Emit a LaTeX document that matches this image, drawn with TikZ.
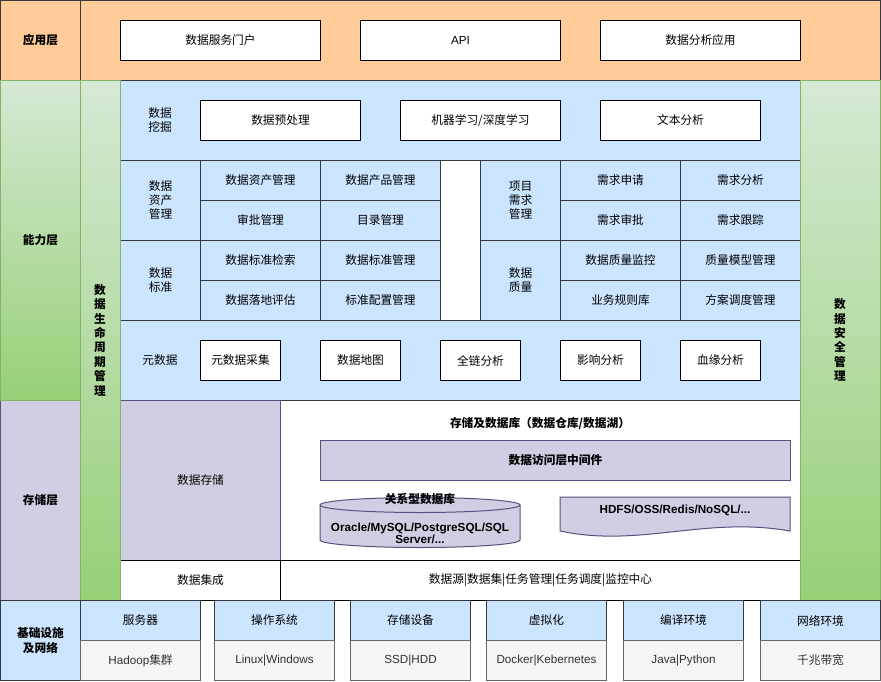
\documentclass[tikz,border=0pt]{standalone}
\usepackage{fontspec}
\setmainfont{Noto Sans CJK SC}
\newfontfamily\lat{Liberation Sans}
\usetikzlibrary{positioning}

\definecolor{edgegray}{HTML}{36393D}
\definecolor{orangefill}{HTML}{FFCC99}
\definecolor{greenlight}{HTML}{D5E8D4}
\definecolor{greendark}{HTML}{97D077}
\definecolor{greenedge}{HTML}{82B366}
\definecolor{bluefill}{HTML}{CCE5FF}
\definecolor{purplefill}{HTML}{D0CEE2}
\definecolor{purpleedge}{HTML}{56517E}
\definecolor{grayfill}{HTML}{F5F5F5}
\definecolor{grayedge}{HTML}{666666}
\definecolor{graytext}{HTML}{333333}

\begin{document}
\begin{tikzpicture}[
  x=1pt, y=-1pt,
  font=\fontsize{11.7}{14}\selectfont,
  sz/.style 2 args = {minimum width=#1pt, minimum height=#2pt},
  cell/.style      = {draw=edgegray, line width=1pt, inner sep=0pt,
                      anchor=north west, align=center},
  layer/.style     = {font=\bfseries\fontsize{11.7}{15}\selectfont},
  appfill/.style   = {cell, fill=orangefill},
  capfill/.style   = {cell, fill=bluefill},
  whitebox/.style  = {cell, draw=black, fill=white},
  greenbar/.style  = {cell, draw=greenedge, top color=greenlight,
                      bottom color=greendark},
  vtext/.style     = {align=center, font=\bfseries\fontsize{11.7}{14.4}\selectfont},
  storefill/.style = {cell, draw=purpleedge, fill=purplefill},
  hwhead/.style    = {cell, fill=bluefill},
  hwbody/.style    = {cell, draw=grayedge, fill=grayfill, text=graytext},
  lbl/.style       = {align=center},
  dbshape/.style   = {draw=purpleedge, line width=1pt, fill=purplefill},
  dbtext/.style    = {font=\bfseries\fontsize{11.7}{12}\selectfont},
]
\useasboundingbox (0,0) rectangle (881,681);

% =============================================================
% Application layer
% =============================================================
\node[appfill, layer, sz={80}{80}]   (appL)   at (0,0)   {应用层};
\node[appfill, sz={800}{80}]         (appA)   at (80,0)  {};
\node[whitebox, sz={200}{40}]        (portal) at (120,20) {数据服务门户};
\node[whitebox, sz={200}{40}]        (api)    at (360,20) {{\lat API}};
\node[whitebox, sz={200}{40}]        (anaapp) at (600,20) {数据分析应用};

% =============================================================
% Capability layer (blue area)
% =============================================================
\node[capfill, sz={680}{320}] (capA) at (120,80) {};
\node[capfill, sz={680}{80}]  (mine) at (120,80) {};
\node[lbl] (mineL) at (160,120) {数据\\挖掘};
\node[whitebox, sz={160}{40}] (prep) at (200,100) {数据预处理};
\node[whitebox, sz={160}{40}] (ml)   at (400,100) {机器学习/深度学习};
\node[whitebox, sz={160}{40}] (text) at (600,100) {文本分析};

% --- left grid: assets / standards ---
\node[capfill, sz={80}{80}]  (assetL) at (120,160) {数据\\资产\\管理};
\node[capfill, sz={120}{40}] (as1)    at (200,160) {数据资产管理};
\node[capfill, sz={120}{40}] (as2)    at (320,160) {数据产品管理};
\node[capfill, sz={120}{40}] (as3)    at (200,200) {审批管理};
\node[capfill, sz={120}{40}] (as4)    at (320,200) {目录管理};
\node[capfill, sz={80}{80}]  (stdL)   at (120,240) {数据\\标准};
\node[capfill, sz={120}{40}] (st1)    at (200,240) {数据标准检索};
\node[capfill, sz={120}{40}] (st2)    at (320,240) {数据标准管理};
\node[capfill, sz={120}{40}] (st3)    at (200,280) {数据落地评估};
\node[capfill, sz={120}{40}] (st4)    at (320,280) {标准配置管理};

\node[cell, fill=white, sz={40}{160}] (gap) at (440,160) {};

% --- right grid: requirements / quality ---
\node[capfill, sz={80}{80}]  (reqL) at (480,160) {项目\\需求\\管理};
\node[capfill, sz={120}{40}] (rq1)  at (560,160) {需求申请};
\node[capfill, sz={120}{40}] (rq2)  at (680,160) {需求分析};
\node[capfill, sz={120}{40}] (rq3)  at (560,200) {需求审批};
\node[capfill, sz={120}{40}] (rq4)  at (680,200) {需求跟踪};
\node[capfill, sz={80}{80}]  (qaL)  at (480,240) {数据\\质量};
\node[capfill, sz={120}{40}] (qa1)  at (560,240) {数据质量监控};
\node[capfill, sz={120}{40}] (qa2)  at (680,240) {质量模型管理};
\node[capfill, sz={120}{40}] (qa3)  at (560,280) {业务规则库};
\node[capfill, sz={120}{40}] (qa4)  at (680,280) {方案调度管理};

% --- metadata row ---
\node[capfill, sz={680}{80}] (meta) at (120,320) {};
\node[lbl] (metaL) at (160,360) {元数据};
\node[whitebox, sz={80}{40}] (md1) at (200,340) {元数据采集};
\node[whitebox, sz={80}{40}] (md2) at (320,340) {数据地图};
\node[whitebox, sz={80}{40}] (md3) at (440,340) {全链分析};
\node[whitebox, sz={80}{40}] (md4) at (560,340) {影响分析};
\node[whitebox, sz={80}{40}] (md5) at (680,340) {血缘分析};

% =============================================================
% Storage layer
% =============================================================
\node[storefill, layer, sz={80}{200}] (storL) at (0,400)   {存储层};
\node[cell, fill=white, sz={520}{160}] (storA) at (280,400) {};
\node[storefill, sz={160}{160}]        (store) at (120,400) {数据存储};
\node[dbtext] (storT) at (540,424) {存储及数据库（数据仓库/数据湖）};
\node[storefill, dbtext, sz={470}{40}] (midw) at (320,440) {数据访问层中间件};

% relational database cylinder
\fill[purplefill] (320,505) -- (320,540)
  arc[start angle=180, end angle=360, x radius=100pt, y radius=7.5pt]
  -- (520,505)
  arc[start angle=0, end angle=180, x radius=100pt, y radius=7.5pt] -- cycle;
\draw[dbshape, fill=none] (320,505) -- (320,540)
  arc[start angle=180, end angle=360, x radius=100pt, y radius=7.5pt]
  -- (520,505);
\draw[dbshape, fill=none] (420,505) ellipse[x radius=100pt, y radius=7.5pt];
\node[dbtext] (rdbT) at (420,499) {关系型数据库};
\node[dbtext, align=center] (rdbB) at (420,533)
  {{\lat\bfseries Oracle/MySQL/PostgreSQL/SQL}\\{\lat\bfseries Server/...}};

% other stores (wavy document shape)
\draw[dbshape] (560,497) -- (790,497) -- (790,531)
  .. controls (705,516) and (640,548) .. (560,531) -- cycle;
\node[dbtext] (nosql) at (675,510) {{\lat\bfseries HDFS/OSS/Redis/NoSQL/...}};

% integration row
\node[whitebox, sz={160}{40}] (integ)  at (120,560) {数据集成};
\node[whitebox, sz={520}{40}] (integB) at (280,560) {数据源|数据集|任务管理|任务调度|监控中心};

% =============================================================
% Green side bars
% =============================================================
\node[greenbar, layer, sz={80}{320}] (capL) at (0,80)   {能力层};
\node[greenbar, sz={40}{520}]        (life) at (80,80)  {};
\node[vtext] (lifeT) at (100,340) {数\\据\\生\\命\\周\\期\\管\\理};
\node[greenbar, sz={80}{520}]        (sec)  at (800,80) {};
\node[vtext] (secT)  at (840,340) {数\\据\\安\\全\\管\\理};

% =============================================================
% Infrastructure layer
% =============================================================
\node[hwhead, layer, sz={80}{80}] (infL) at (0,600) {基础设施\\及网络};

\node[hwhead, sz={120}{40}] (hw1) at (80,600)  {服务器};
\node[hwbody, sz={120}{40}] (sw1) at (80,640)  {{\lat Hadoop}集群};
\node[hwhead, sz={120}{40}] (hw2) at (214,600) {操作系统};
\node[hwbody, sz={120}{40}] (sw2) at (214,640) {{\lat Linux|Windows}};
\node[hwhead, sz={120}{40}] (hw3) at (350,600) {存储设备};
\node[hwbody, sz={120}{40}] (sw3) at (350,640) {{\lat SSD|HDD}};
\node[hwhead, sz={120}{40}] (hw4) at (486,600) {虚拟化};
\node[hwbody, sz={120}{40}] (sw4) at (486,640) {{\lat Docker|Kebernetes}};
\node[hwhead, sz={120}{40}] (hw5) at (623,600) {编译环境};
\node[hwbody, sz={120}{40}] (sw5) at (623,640) {{\lat Java|Python}};
\node[hwhead, sz={120}{40}] (hw6) at (760,600) {网络环境};
\node[hwbody, sz={120}{40}] (sw6) at (760,640) {千兆带宽};

\end{tikzpicture}
\end{document}
